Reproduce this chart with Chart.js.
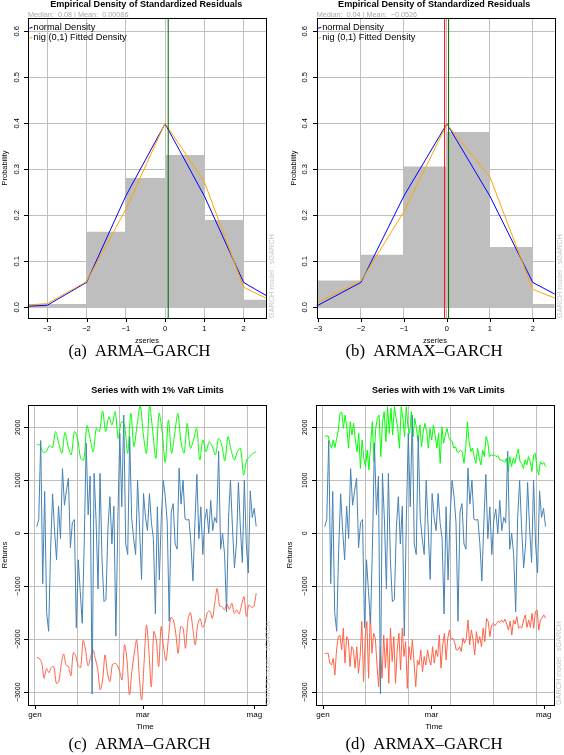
<!DOCTYPE html>
<html>
<head>
<meta charset="utf-8">
<script src="https://cdn.jsdelivr.net/npm/chart.js@4.4.1/dist/chart.umd.min.js"></script>
<style>
  html, body { margin: 0; padding: 0; background: #fff; }
  body { width: 564px; height: 755px; position: relative; overflow: hidden; }
  canvas { position: absolute; }
</style>
</head>
<body>
<canvas id="pa"></canvas>
<canvas id="pb"></canvas>
<canvas id="pc"></canvas>
<canvas id="pd"></canvas>
<script>
// ---- density panels (a), (b) ----
const densityX = [-4, -3, -2, -1, 0, 1, 2, 3];
const normalDensity = [0.0001, 0.0044, 0.054, 0.242, 0.399, 0.242, 0.054, 0.0044];
const nigDensityA = [0.002, 0.008, 0.056, 0.213, 0.400, 0.273, 0.0435, 0.002];
const nigDensityB = [0.002, 0.011, 0.057, 0.208, 0.398, 0.284, 0.039, 0.002];
const histBreaks = [-4, -3, -2, -1, 0, 1, 2, 3];
const histA = [0.007, 0.007, 0.164, 0.281, 0.331, 0.190, 0.0165];
const histB = [0.058, 0.058, 0.114, 0.306, 0.381, 0.131, 0.007];
const medianMeanA = [0.08, 0.00086];
const medianMeanB = [0.04, -0.0526];
const zTicks = [-3, -2, -1, 0, 1, 2];
const probTicks = [0, 0.1, 0.2, 0.3, 0.4, 0.5, 0.6];

// ---- VaR panels (c), (d) ----
const timeLabels = ['gen', 'mar', 'mag'];
const timeLabelDays = [0, 59, 120];
const timeGridDays = [0, 23.2, 46.4, 69.6, 92.8, 116];
const returnTicks = [-3000, -2000, -1000, 0, 1000, 2000];
const firstDay = 1, lastDay = 121;

const seriesReturns = [125, 260, 1750, -950, 790, -1500, -1850, -300, 745, 50, -500, 515, -100, 1220, 530,
  800, 1040, -270, 200, 260, -1780, -500, -1100, -1700, -200, 1700, 350, 1080, -3030, 1130, 250, -1050, 1130,
  -500, -1290, -1250, 100, 690, -200, 510, -1940, 200, 1890, 500, 2230, -200, -400, 1830, 300, -100, -400,
  1000, 100, -870, 750, 300, 50, 750, 200, -100, -1520, 500, -880, 300, 1000, 700, 200, -1660, 400, 560, -200,
  -300, 1230, 550, 1000, 270, 250, 260, -200, -900, 200, 1110, -100, 500, -400, 250, 460, 0, 620, 50, 300, 200,
  1550, -300, 0, -400, -1480, 300, 1000, 100, -650, -200, 960, 100, -550, 1000, -200, -750, 800, 300, 470, 130];

const varUpperC = [1680, 1667, 1530, 1540, 1650, 1620, 1920, 1700, 1510, 1905, 1635, 1480, 1920, 1790, 1415,
  1385, 2030, 1790, 1540, 1980, 1920, 2310, 1920, 2200, 2045, 2295, 1790, 2105, 2045, 1510, 2265, 1635, 2045,
  2410, 1855, 1510, 2410, 1920, 1415, 2265, 1920, 1340, 2140, 1510, 1885, 2265, 1730, 1510, 2075, 1605, 1760,
  1980, 1385, 1760, 1540, 1730, 1635, 1480, 1790, 1667, 1365, 1825, 1570, 1385, 1540, 1605, 1100, 1385, 1447,
  1510, 1540];

const varLowerC = [-2340, -2360, -2440, -2735, -2550, -2630, -2530, -2515, -2830, -2800, -2485, -2275, -2485,
  -2515, -2690, -2250, -2315, -2500, -2530, -2025, -2200, -2500, -2360, -2190, -2360, -2565, -2955, -2770,
  -2295, -2640, -2800, -2485, -2455, -2485, -2610, -2765, -2105, -2390, -3050, -2610, -2265, -2010, -2675,
  -3145, -2455, -1730, -2235, -2895, -1855, -2010, -2515, -1760, -2140, -2400, -1980, -1585, -1635, -1885,
  -2265, -1760, -1790, -2170, -1635, -1495, -1790, -2105, -1730, -1610, -1775, -1685, -1495, -1465, -1605,
  -1320, -1040, -1370, -1385, -1445, -1335, -1435, -1320, -1510, -1445, -1525, -1350, -1195, -1570, -1350,
  -1395, -1385, -1130];

const varUpperD = [1835, 1835, 1835, 1700, 1605, 1760, 1615, 1790, 1950, 2265, 2285, 1980, 2230, 1995, 1605,
  2105, 1855, 2075, 1760, 1540, 1885, 1225, 1760, 1415, 1260, 1570, 1195, 1665, 2105, 1350, 1980, 2170, 2230,
  1447, 2105, 2295, 1730, 2390, 1885, 2360, 1855, 2390, 2170, 1980, 1605, 2390, 2170, 1825, 2390, 2010, 1885,
  2295, 1825, 2170, 1980, 1730, 2045, 1635, 1920, 2075, 1920, 1605, 1980, 1760, 2045, 1855, 1605, 1885, 1320,
  2010, 1700, 1855, 1980, 1825, 1760, 1740, 1605, 1635, 1530, 1530, 1570, 1540, 1320, 1605, 2105, 1730, 1540,
  1605, 1447, 1320, 1605, 1415, 1290, 1570, 1447, 1825, 1730, 1447, 1480, 1465, 1480, 1447, 1465, 1385, 1385,
  1365, 1340, 1415, 1165, 1447, 1260, 1415, 1320, 1480, 1590, 1350, 1320, 1225, 1385, 1290, 1447, 1350, 1165,
  1480, 1510, 1225, 1100, 1350, 1300, 1340, 1260];

const varLowerD = [-2265, -2265, -2265, -2450, -2485, -2360, -2675, -2200, -1950, -1920, -2200, -1790, -2450,
  -1950, -2010, -2515, -2140, -2200, -2545, -2140, -2640, -2325, -1665, -2800, -1980, -1665, -2735, -1480,
  -2265, -1885, -1980, -2485, -2895, -2140, -2735, -1920, -2545, -1980, -2830, -1790, -2420, -1950, -2830,
  -2200, -1885, -2580, -1790, -2325, -2045, -2925, -2140, -2390, -2010, -2450, -2895, -2390, -2485, -2200,
  -2610, -2325, -2485, -2200, -2390, -2485, -2140, -2450, -2200, -2325, -1920, -2545, -2105, -1885, -2390,
  -1980, -1825, -2010, -1980, -2045, -2200, -2200, -2140, -2230, -1980, -2075, -1980, -1635, -2105, -1825,
  -2010, -2295, -1855, -2075, -1950, -2140, -1790, -2045, -1605, -1665, -1950, -1730, -1700, -1745, -1700,
  -1655, -1680, -1635, -1680, -1620, -1715, -1825, -1655, -1920, -1635, -1715, -1570, -1790, -1760, -1790,
  -1635, -1540, -1775, -1635, -1775, -1510, -1790, -1480, -1445, -1825, -1635, -1600, -1540, -1600];

const SANS = '"Liberation Sans", Arial, Helvetica, sans-serif';
const SERIF = '"Liberation Serif", "DejaVu Serif", serif';

function toPoints(xs, ys) {
  return ys.map((y, i) => ({ x: xs[i], y: y }));
}

function overTime(vals) {
  const step = (lastDay - firstDay) / (vals.length - 1);
  return vals.map((v, i) => ({ x: firstDay + i * step, y: v }));
}

function histPoints(breaks, heights) {
  // stepped line: each height holds from its break to the next one
  return breaks.map((b, i) => ({ x: b, y: heights[Math.min(i, heights.length - 1)] }));
}

function lineSet(data, color, extra) {
  return Object.assign({
    data: data, borderColor: color, borderWidth: 1, pointRadius: 0, fill: false, tension: 0
  }, extra || {});
}

function vline(x, color) {
  return lineSet([{ x: x, y: -1 }, { x: x, y: 1 }], color);
}

// text helper: width (optional) sets the font size so the text spans that many pixels
function drawText(ctx, s, x, y, o) {
  ctx.save();
  let size = o.size || 8;
  const weight = o.weight || 'normal';
  const family = o.family || SANS;
  if (o.width) {
    ctx.font = weight + ' 100px ' + family;
    size = 100 * o.width / ctx.measureText(s).width;
  }
  ctx.font = weight + ' ' + size + 'px ' + family;
  ctx.fillStyle = o.color || '#000';
  ctx.textAlign = o.align || 'center';
  ctx.textBaseline = 'middle';
  ctx.translate(x, y);
  if (o.rot) ctx.rotate(-Math.PI / 2);
  ctx.fillText(s, 0, 0);
  ctx.restore();
}

function rFrame(cfg) {
  return {
    id: 'rframe',
    afterDraw(chart) {
      const ctx = chart.ctx, a = chart.chartArea;
      const xs = chart.scales.x, ys = chart.scales.y;
      ctx.save();
      ctx.strokeStyle = '#000';
      ctx.lineWidth = 1;
      ctx.strokeRect(Math.round(a.left) + 0.5, Math.round(a.top) + 0.5,
        Math.round(a.right - a.left), Math.round(a.bottom - a.top));
      ctx.beginPath();
      cfg.xTicks.forEach(v => {
        const px = Math.round(xs.getPixelForValue(v)) + 0.5;
        ctx.moveTo(px, Math.round(a.bottom)); ctx.lineTo(px, Math.round(a.bottom) + 4);
      });
      cfg.yTicks.forEach(v => {
        const py = Math.round(ys.getPixelForValue(v)) + 0.5;
        ctx.moveTo(Math.round(a.left), py); ctx.lineTo(Math.round(a.left) - 4, py);
      });
      ctx.stroke();
      ctx.restore();

      cfg.xTicks.forEach((v, i) => drawText(ctx, cfg.xLabels[i], xs.getPixelForValue(v), cfg.xLabelY, { size: cfg.xTickSize }));
      cfg.yTicks.forEach((v, i) => drawText(ctx, cfg.yLabels[i], cfg.yLabelX, ys.getPixelForValue(v), { size: cfg.yTickSize, rot: true }));
      drawText(ctx, cfg.xTitle, cfg.xTitlePos[0], cfg.xTitlePos[1], { size: cfg.xTitleSize });
      drawText(ctx, cfg.yTitle, cfg.yTitleX, (a.top + a.bottom) / 2, { size: cfg.yTitleSize, rot: true });
      drawText(ctx, cfg.title, cfg.titlePos[0], cfg.titlePos[1], { weight: 'bold', width: cfg.titleWidth });
      drawText(ctx, 'GARCH model : sGARCH', cfg.sideX, a.bottom, { rot: true, align: 'left', width: 84, color: '#c4c4c4' });
      drawText(ctx, cfg.caption, cfg.captionPos[0], cfg.captionPos[1], { family: SERIF, width: cfg.captionWidth });

      if (cfg.sub) {
        drawText(ctx, cfg.sub, a.left, 14.7, { align: 'left', width: 100.6, color: '#a9a9a9' });
      }
      if (cfg.legend) {
        ctx.save();
        ctx.font = '100px ' + SANS;
        const size = 100 * 93.4 / ctx.measureText(cfg.legend[1].text).width;
        ctx.restore();
        cfg.legend.forEach((it, i) => {
          const y = 27.7 + i * 10;
          ctx.save();
          ctx.strokeStyle = it.color;
          ctx.lineWidth = 1.2;
          ctx.beginPath();
          ctx.moveTo(a.left + 1.5, y + 0.5); ctx.lineTo(a.left + 4.5, y - 0.5);
          ctx.stroke();
          ctx.restore();
          drawText(ctx, it.text, a.left + 5.5, y, { align: 'left', size: size });
        });
      }
    }
  };
}

function axis(min, max, grid) {
  return {
    type: 'linear', min: min, max: max, display: true,
    ticks: { display: false },
    border: { display: false },
    grid: { color: '#BEBEBE', lineWidth: 1, drawTicks: false },
    afterBuildTicks: s => { s.ticks = grid.map(v => ({ value: v })); },
    afterFit: s => { if (s.isHorizontal()) s.height = 0; else s.width = 0; }
  };
}

function makeChart(id, cfg) {
  const el = document.getElementById(id);
  el.width = cfg.w; el.height = cfg.h;
  el.style.left = cfg.left + 'px';
  el.style.top = cfg.top + 'px';
  return new Chart(el, {
    type: 'line',
    data: { datasets: cfg.datasets },
    options: {
      responsive: false, animation: false, events: [],
      layout: { padding: cfg.pad },
      plugins: { legend: { display: false }, tooltip: { enabled: false } },
      scales: {
        x: axis(cfg.xRange[0], cfg.xRange[1], cfg.xGrid),
        y: axis(cfg.yRange[0], cfg.yRange[1], cfg.yGrid)
      }
    },
    plugins: [rFrame(cfg)]
  });
}

function densityDatasets(hist, nig, mm, showMean) {
  const sets = [
    vline(mm[0], '#006400'),
    lineSet(toPoints(densityX, nig), '#FFA500'),
    lineSet(toPoints(densityX, normalDensity), '#0000FF'),
    lineSet(histPoints(histBreaks, hist), 'rgba(0,0,0,0)', { stepped: true, fill: 'origin', backgroundColor: '#BEBEBE', borderWidth: 0 })
  ];
  if (showMean) sets.unshift(vline(mm[1], '#FF0000'));
  return sets;
}

const densityCommon = {
  w: 282, h: 370, top: 0,
  yRange: [-0.0233, 0.629], xGrid: zTicks, yGrid: probTicks,
  xTicks: zTicks, xLabels: zTicks.map(v => String(v).replace('-', '\u2212')), xLabelY: 328.7, xTickSize: 7.5,
  yTicks: probTicks, yLabels: probTicks.map(v => v.toFixed(1)), yTickSize: 7.5,
  xTitle: 'zseries', xTitleSize: 7.5, yTitle: 'Probability', yTitleSize: 7.5,
  title: 'Empirical Density of Standardized Residuals', titleWidth: 192.5,
  legend: [{ text: 'normal Density', color: '#0000FF' }, { text: 'nig (0,1) Fitted Density', color: '#FFA500' }]
};

makeChart('pa', Object.assign({}, densityCommon, {
  left: 0, pad: { left: 28, top: 18, right: 16, bottom: 52 },
  xRange: [-3.49, 2.57],
  datasets: densityDatasets(histA, nigDensityA, medianMeanA, false),
  yLabelX: 16.7, yTitleX: 4.5, xTitlePos: [147, 341], titlePos: [146.3, 4.5], sideX: 271.7,
  sub: 'Median:  ' + medianMeanA[0] + ' | Mean:  ' + medianMeanA[1],
  caption: '(a)  ARMA\u2013GARCH', captionPos: [139.5, 352], captionWidth: 142
}));

makeChart('pb', Object.assign({}, densityCommon, {
  left: 282, pad: { left: 34.7, top: 18, right: 9.3, bottom: 52 },
  xRange: [-3.03, 2.51],
  datasets: densityDatasets(histB, nigDensityB, medianMeanB, true),
  yLabelX: 23.3, yTitleX: 11.7, xTitlePos: [153, 341], titlePos: [152.2, 4.5], sideX: 278.3,
  sub: 'Median:  ' + medianMeanB[0] + ' | Mean:  ' + String(medianMeanB[1]).replace('-', '\u2212'),
  caption: '(b)  ARMAX\u2013GARCH', captionPos: [142, 352], captionWidth: 157
}));

const varCommon = {
  w: 282, h: 380, top: 375,
  yRange: [-3240, 2421], xGrid: timeGridDays, yGrid: returnTicks,
  xTicks: timeLabelDays, xLabels: timeLabels, xLabelY: 340, xTickSize: 8,
  yTicks: returnTicks, yLabels: returnTicks.map(v => String(v).replace('-', '\u2212')), yTickSize: 7,
  xTitle: 'Time', xTitleSize: 8, yTitle: 'Returns', yTitleSize: 7.5,
  title: 'Series with with 1% VaR Limits', titleWidth: 133
};

makeChart('pc', Object.assign({}, varCommon, {
  left: 0, pad: { left: 28, top: 30, right: 16.3, bottom: 50 },
  xRange: [-3.8, 126.2],
  datasets: [
    lineSet(overTime(seriesReturns), '#4682B4'),
    lineSet(overTime(varLowerC), '#FF6347', { tension: 0.3 }),
    lineSet(overTime(varUpperC), '#00FF00', { tension: 0.3 })
  ],
  yLabelX: 18, yTitleX: 4.5, xTitlePos: [145, 351.7], titlePos: [157.5, 15.7], sideX: 268.5,
  caption: '(c)  ARMA\u2013GARCH', captionPos: [139.5, 369.3], captionWidth: 142
}));

makeChart('pd', Object.assign({}, varCommon, {
  left: 282, pad: { left: 34.3, top: 30, right: 9.3, bottom: 50 },
  xRange: [-3.6, 126],
  datasets: [
    lineSet(overTime(seriesReturns), '#4682B4'),
    lineSet(overTime(varLowerD), '#FF6347'),
    lineSet(overTime(varUpperD), '#00FF00')
  ],
  yLabelX: 23.3, yTitleX: 8, xTitlePos: [152, 351.7], titlePos: [156.3, 15.7], sideX: 276.7,
  caption: '(d)  ARMAX\u2013GARCH', captionPos: [142, 369.3], captionWidth: 157
}));
</script>
</body>
</html>
